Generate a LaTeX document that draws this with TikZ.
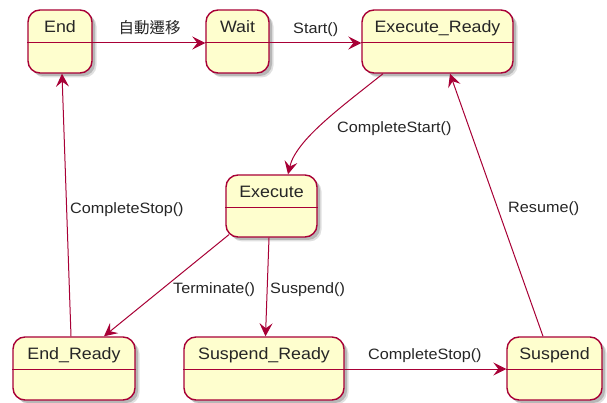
\documentclass[tikz,border=0pt]{standalone}
\usepackage{fontspec}
\setmainfont{Liberation Sans}[FakeStretch=1.08]
\newfontfamily\cjk{Noto Sans CJK TC}
\usetikzlibrary{arrows.meta,shadows}
\definecolor{pborder}{HTML}{A80036}
\definecolor{pfill}{HTML}{FEFECE}
\newcommand\mystate[7]{% name, cx, cy, w, h, title
  \node[stbox, minimum width=#4pt, minimum height=#5pt] (#1) at (#2,#3) {};
  \draw[divline] ([yshift=-33pt]#1.north west) -- ([yshift=-33pt]#1.north east);
  \node[sttitle] (#1-t) at ([yshift=-23pt]#1.north) {#6};
}
\begin{document}
\begin{tikzpicture}[x=1pt,y=-1pt,
  stbox/.style={draw=pborder, fill=pfill, line width=1.4pt, rounded corners=12pt, inner sep=0pt,
    drop shadow={shadow xshift=4.5pt, shadow yshift=-4.5pt, opacity=0.12, fill=black},
    drop shadow={shadow xshift=3pt, shadow yshift=-3pt, opacity=0.18, fill=black}},
  divline/.style={draw=pborder, line width=1.4pt},
  sttitle/.style={anchor=base, font=\fontsize{16.5}{18}\selectfont, text=black!85, inner sep=0pt},
  elabel/.style={anchor=base west, font=\fontsize{15}{17}\selectfont, text=black!85, inner sep=0pt},
  tr/.style={draw=pborder, line width=1pt, -{Stealth[length=13pt, width=13pt, inset=5pt]}}]
\fill[white] (0,0) rectangle (607,403);
\useasboundingbox (0,0) rectangle (607,403);

\mystate{end}{60}{41.5}{64}{63}{End}{}
\mystate{wait}{237.5}{41.5}{63}{63}{Wait}{}
\mystate{execready}{437.5}{41.5}{151}{63}{Execute\_Ready}{}
\mystate{execute}{271.5}{206}{91}{62}{Execute}{}
\mystate{endready}{74}{368.5}{122}{63}{End\_Ready}{}
\mystate{suspready}{264}{368.5}{160}{63}{Suspend\_Ready}{}
\mystate{suspend}{554.5}{368.5}{95}{63}{Suspend}{}

% connectors
\draw[tr] ([yshift=-1.5pt]end.east) -- ([yshift=-1.5pt]wait.west);
\draw[tr] ([yshift=-1.5pt]wait.east) -- ([yshift=-1.5pt]execready.west);
\draw[tr] ([xshift=-54.5pt]execready.south) .. controls (340,108) and (296,140) .. ([xshift=16.5pt]execute.north);
\draw[tr] ([xshift=3.7pt,yshift=3.1pt]execute.south west) -- ([xshift=30pt]endready.north);
\draw[tr] ([xshift=-2.5pt]execute.south) -- ([xshift=1.5pt]suspready.north);
\draw[tr] ([xshift=-3pt]endready.north) -- ([xshift=2pt]end.south);
\draw[tr] ([yshift=-0.5pt]suspready.east) -- ([yshift=-0.5pt]suspend.west);
\draw[tr] ([xshift=-11.5pt]suspend.north) -- ([xshift=12.5pt]execready.south);

% labels
\node[anchor=center, font=\cjk\fontsize{15.5}{17}\selectfont, text=black!85, inner sep=0pt] (l1) at (149.5,27.5) {自動遷移};
\node[elabel] (l2) at (293,33.5) {Start()};
\node[elabel] (l3) at (337,132.5) {CompleteStart()};
\node[elabel] (l4) at (70,213.5) {CompleteStop()};
\node[elabel] (l5) at (173,293.5) {Terminate()};
\node[elabel] (l6) at (270,293.5) {Suspend()};
\node[elabel] (l7) at (508,212.5) {Resume()};
\node[elabel] (l8) at (368,359.5) {CompleteStop()};
\end{tikzpicture}
\end{document}
